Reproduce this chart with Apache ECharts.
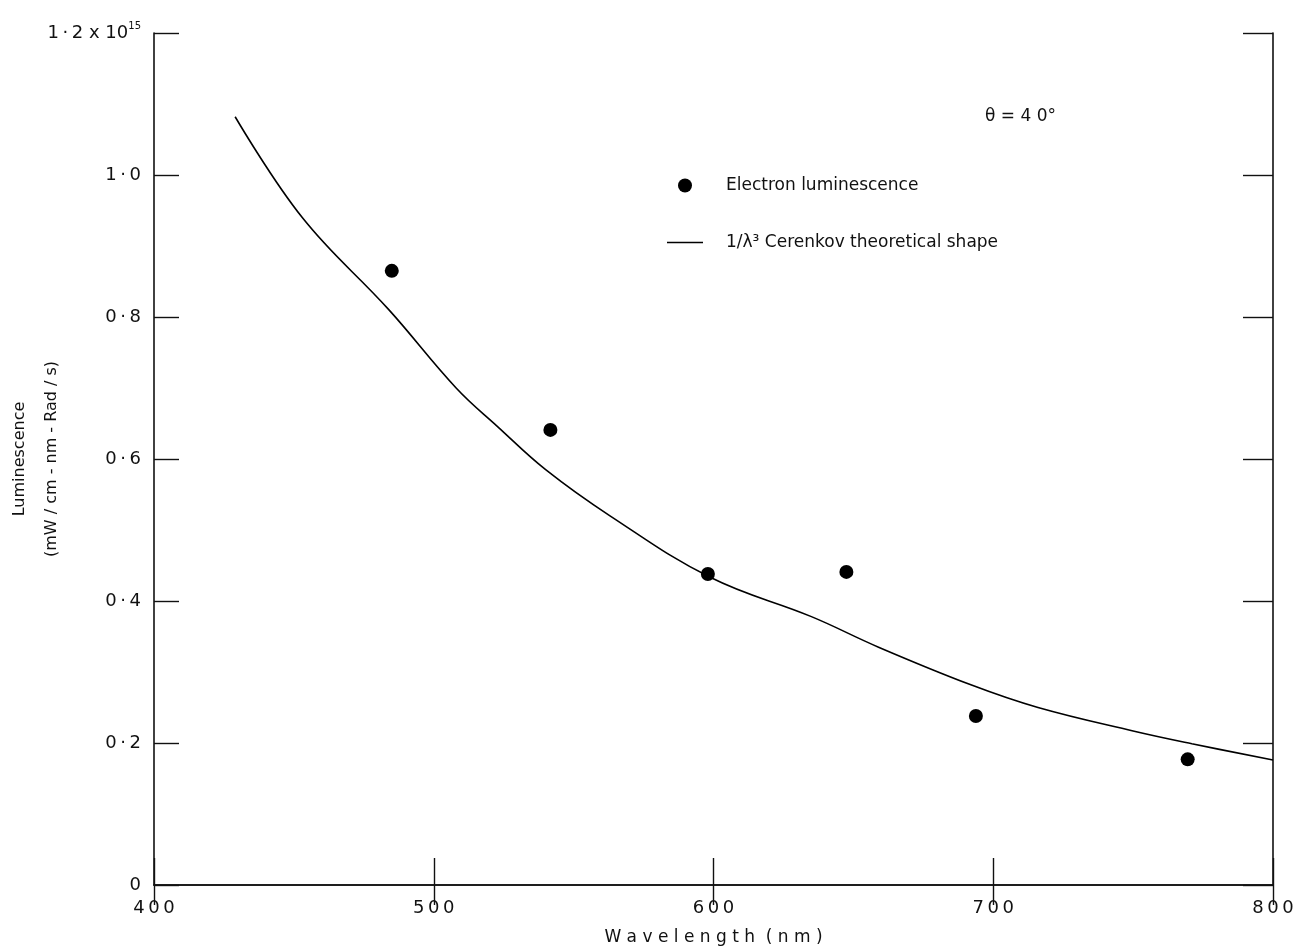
<!DOCTYPE html>
<html>
<head>
<meta charset="utf-8">
<title>Luminescence vs wavelength</title>
<script src="https://cdn.jsdelivr.net/npm/echarts@6/dist/echarts.min.js"></script>
<style>
html, body {
  margin: 0;
  padding: 0;
  background: #fff;
}
#chart {
  width: 1301px;
  height: 949px;
}
</style>
</head>
<body>
<div id="chart"></div>
<script>
// measured points, luminescence in units of 1e15
const electronWavelength = [485, 541.7, 598, 647.5, 693.8, 769.5]
const electronLum = [0.865, 0.641, 0.438, 0.441, 0.238, 0.177]

// theoretical 1/lambda^3 curve
const cerenkovWavelength = [429, 453, 484, 508, 523, 540, 563, 599, 635, 659, 692, 716, 750, 771, 800]
const cerenkovLum = [1.082, 0.94, 0.81, 0.70, 0.645, 0.585, 0.52, 0.433, 0.378, 0.335, 0.282, 0.25, 0.217, 0.199, 0.176]

const xTicks = [400, 500, 600, 700, 800]
const yTicks = [0, 0.2, 0.4, 0.6, 0.8, 1.0, 1.2]

const font = '"DejaVu Sans", sans-serif'
const thin = '\u2009'

const chart = echarts.init(document.getElementById('chart'))

function yLabel(v) {
  if (v === 0) return '0'
  if (Math.abs(v - 1.2) < 1e-9) return '1' + thin + '·' + thin + '2 x 10{sup|15}'
  return v.toFixed(1).replace('.', thin + '·' + thin)
}

chart.setOption({
  animation: false,
  backgroundColor: '#fff',
  textStyle: { fontFamily: font, color: '#111' },
  grid: { left: 154, right: 28, top: 33, bottom: 64, outerBoundsMode: 'none', containLabel: false },
  graphic: [{
    type: 'text',
    left: 985,
    top: 108,
    style: { text: 'θ = 4 0°', font: '17px ' + font, fill: '#111' }
  }],
  legend: {
    orient: 'vertical',
    left: 662,
    top: 172,
    itemGap: 40,
    itemWidth: 36,
    itemHeight: 14,
    symbolKeepAspect: true,
    textStyle: { fontSize: 17, color: '#111', fontFamily: font, padding: [0, 0, 0, 18] },
    data: [
      { name: 'Electron luminescence', icon: 'circle' },
      { name: '1/λ³ Cerenkov theoretical shape', icon: 'path://M0,0 L36,0 L36,1.6 L0,1.6 Z', itemStyle: { color: '#000' } }
    ]
  },
  xAxis: [{
    type: 'value',
    min: 400,
    max: 800,
    interval: 100,
    name: 'W a v e l e n g t h  ( n m )',
    nameLocation: 'middle',
    nameGap: 44,
    nameTextStyle: { fontSize: 17, color: '#111' },
    axisLine: { lineStyle: { color: '#111', width: 1.6 } },
    axisTick: { inside: true, length: 27, lineStyle: { color: '#111', width: 1.4 } },
    axisLabel: {
      fontSize: 18, color: '#111', margin: 14,
      formatter: v => xTicks.includes(v) ? String(v).split('').join(thin) : ''
    },
    splitLine: { show: false }
  }, {
    type: 'value',
    position: 'top',
    min: 400,
    max: 800,
    interval: 100,
    axisLine: { lineStyle: { color: '#111', width: 1.6 } },
    axisTick: { inside: true, length: 20, lineStyle: { color: '#111', width: 1.4 } },
    axisLabel: { show: false },
    splitLine: { show: false }
  }],
  yAxis: [{
    type: 'value',
    min: 0,
    max: 1.2,
    interval: 0.2,
    name: 'Luminescence\n(mW / cm - nm - Rad / s)',
    nameLocation: 'middle',
    nameRotate: 90,
    nameGap: 86,
    nameMoveOverlap: false,
    nameTextStyle: { fontSize: 16, color: '#111', lineHeight: 32 },
    axisLine: { lineStyle: { color: '#111', width: 1.6 } },
    axisTick: { inside: true, length: 25, lineStyle: { color: '#111', width: 1.4 } },
    axisLabel: {
      fontSize: 18, color: '#111', margin: 13,
      formatter: yLabel,
      rich: { sup: { fontSize: 10, verticalAlign: 'top', padding: [0, 0, 14, 0] } }
    },
    splitLine: { show: false }
  }, {
    type: 'value',
    position: 'right',
    min: 0,
    max: 1.2,
    interval: 0.2,
    axisLine: { lineStyle: { color: '#111', width: 1.6 } },
    axisTick: { inside: true, length: 30, lineStyle: { color: '#111', width: 1.4 } },
    axisLabel: { show: false },
    splitLine: { show: false }
  }],
  series: [
    {
      name: 'Electron luminescence',
      type: 'scatter',
      symbol: 'circle',
      symbolSize: 14,
      itemStyle: { color: '#000', opacity: 1 },
      data: electronWavelength.map((x, i) => [x, electronLum[i]])
    },
    {
      name: '1/λ³ Cerenkov theoretical shape',
      type: 'line',
      smooth: 0.4,
      symbol: 'none',
      showSymbol: false,
      lineStyle: { color: '#000', width: 1.6 },
      itemStyle: { color: '#000' },
      data: cerenkovWavelength.map((x, i) => [x, cerenkovLum[i]])
    }
  ]
})
</script>
</body>
</html>
